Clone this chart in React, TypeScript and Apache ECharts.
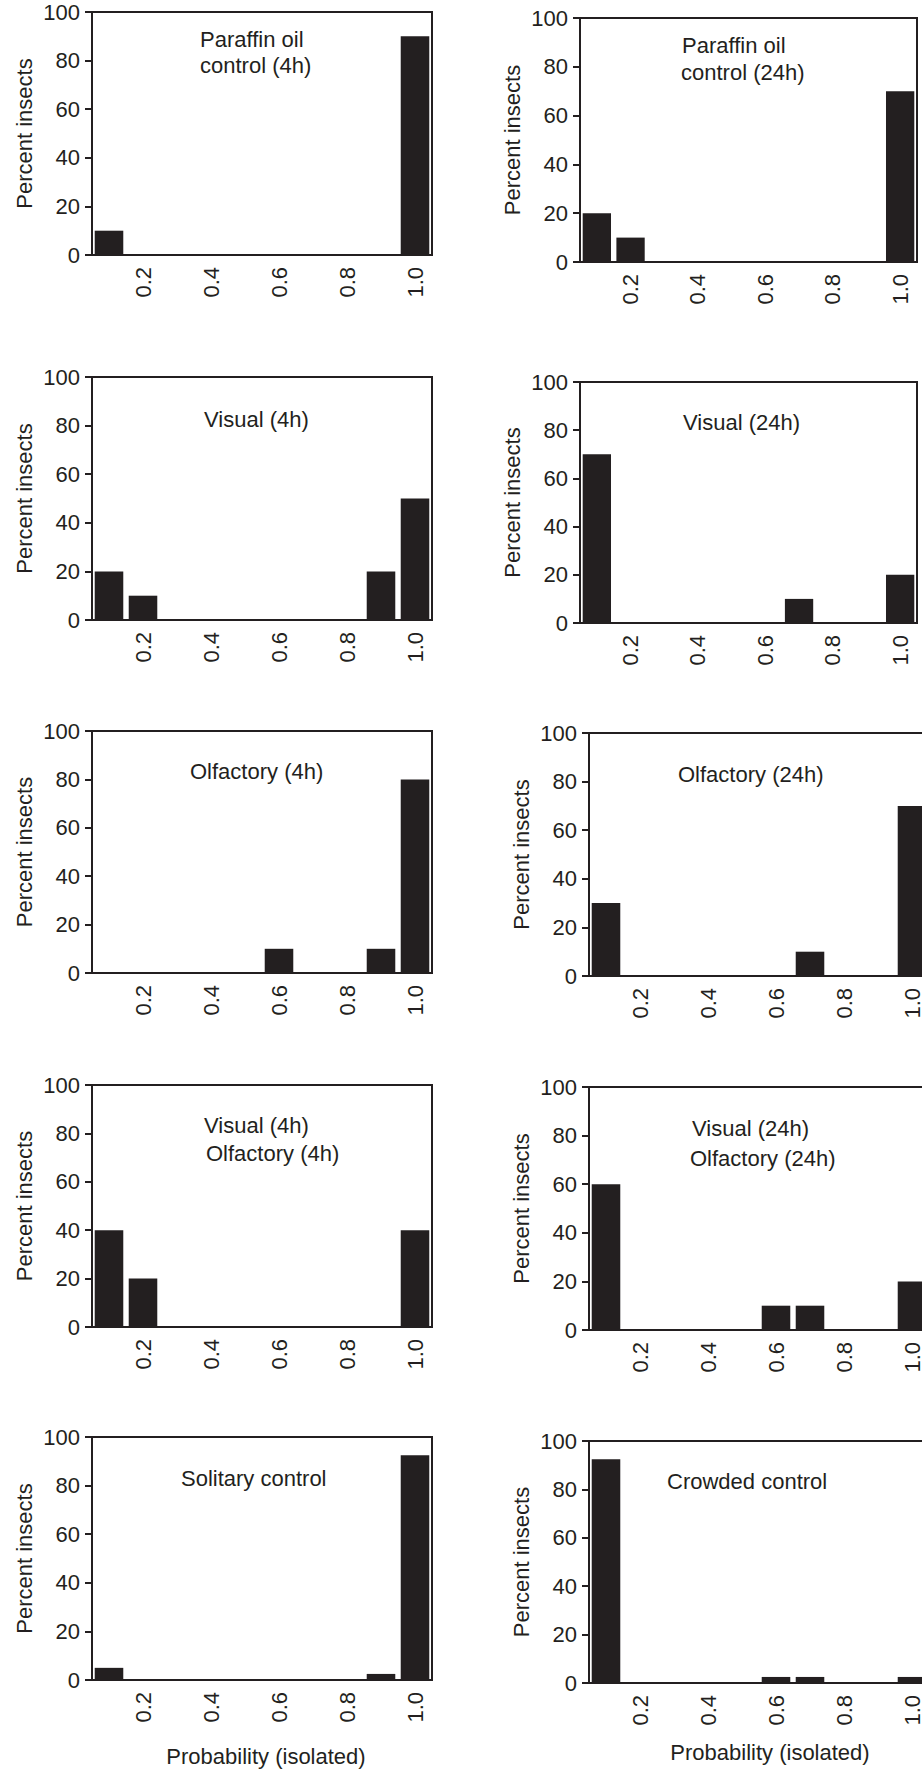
import React, { useEffect, useRef } from 'react';
import * as echarts from 'echarts';

// ---------- data ----------
const categories = ['0.1', '0.2', '0.3', '0.4', '0.5', '0.6', '0.7', '0.8', '0.9', '1.0'];
const shownTickLabels = ['0.2', '0.4', '0.6', '0.8', '1.0'];
const yTicks = [0, 20, 40, 60, 80, 100];

const paraffin4h = [10, 0, 0, 0, 0, 0, 0, 0, 0, 90];
const paraffin24h = [20, 10, 0, 0, 0, 0, 0, 0, 0, 70];
const visual4h = [20, 10, 0, 0, 0, 0, 0, 0, 20, 50];
const visual24h = [70, 0, 0, 0, 0, 0, 10, 0, 0, 20];
const olfactory4h = [0, 0, 0, 0, 0, 10, 0, 0, 10, 80];
const olfactory24h = [30, 0, 0, 0, 0, 0, 10, 0, 0, 70];
const visualOlfactory4h = [40, 20, 0, 0, 0, 0, 0, 0, 0, 40];
const visualOlfactory24h = [60, 0, 0, 0, 0, 10, 10, 0, 0, 20];
const solitaryControl = [5, 0, 0, 0, 0, 0, 0, 0, 2.5, 92.5];
const crowdedControl = [92.5, 0, 0, 0, 0, 2.5, 2.5, 0, 0, 2.5];

const panelValues = [
  paraffin4h, paraffin24h,
  visual4h, visual24h,
  olfactory4h, olfactory24h,
  visualOlfactory4h, visualOlfactory24h,
  solitaryControl, crowdedControl,
];

const panelTitles = [
  ['Paraffin oil', 'control (4h)'], ['Paraffin oil', 'control (24h)'],
  ['Visual (4h)'], ['Visual (24h)'],
  ['Olfactory (4h)'], ['Olfactory (24h)'],
  ['Visual (4h)', 'Olfactory (4h)'], ['Visual (24h)', 'Olfactory (24h)'],
  ['Solitary control'], ['Crowded control'],
];

const yAxisTitle = 'Percent insects';
const xAxisTitle = 'Probability (isolated)';

// ---------- layout ----------
// [left, top, width, height]
const gridBoxes = [
  [92, 12, 340, 243], [580, 18, 337, 244],
  [92, 377, 340, 243], [580, 382, 337, 241],
  [92, 731, 340, 242], [589, 733, 340, 243],
  [92, 1085, 340, 242], [589, 1087, 340, 243],
  [92, 1437, 340, 243], [589, 1441, 340, 242],
];
// per title line: [x, baseline]
const titleSpots = [
  [[200, 47], [200, 73]], [[682, 53], [681, 80]],
  [[204, 427]], [[683, 430]],
  [[190, 779]], [[678, 782]],
  [[204, 1133], [206, 1161]], [[692, 1136], [690, 1166]],
  [[181, 1486]], [[667, 1489]],
];
const xTitleSpots = [[266, 1756], [770, 1752]];

const INK = '#231f20';
const FONT = '"Liberation Sans", Arial, Helvetica, sans-serif';
const FS = 22;

export default function App() {
  const ref = useRef<HTMLDivElement>(null);

  useEffect(() => {
    if (!ref.current) return;
    const chart = echarts.init(ref.current, null, { renderer: 'svg' });

    const grid = gridBoxes.map(([left, top, width, height]) => ({
      left, top, width, height,
      show: true,
      borderColor: INK,
      borderWidth: 2,
      backgroundColor: 'transparent',
      containLabel: false,
      outerBoundsMode: 'none',
    }));

    const xAxis = panelValues.map((_, i) => ({
      type: 'category',
      gridIndex: i,
      data: categories,
      axisLine: { show: true, lineStyle: { color: INK, width: 2 } },
      axisTick: { show: false },
      axisLabel: {
        interval: (_idx: number, val: string) => shownTickLabels.includes(val),
        rotate: 90,
        margin: 12,
        fontSize: FS,
        color: INK,
        fontFamily: FONT,
      },
      splitLine: { show: false },
    }));

    const yAxis = panelValues.map((_, i) => ({
      type: 'value',
      gridIndex: i,
      min: yTicks[0],
      max: yTicks[yTicks.length - 1],
      interval: yTicks[1] - yTicks[0],
      splitLine: { show: false },
      axisLine: { show: true, lineStyle: { color: INK, width: 2 } },
      axisTick: { show: true, length: 7, lineStyle: { color: INK, width: 2 } },
      axisLabel: { margin: 12, fontSize: FS, color: INK, fontFamily: FONT },
      name: yAxisTitle,
      nameLocation: 'middle',
      nameGap: 57,
      nameTextStyle: { fontSize: FS, color: INK, fontFamily: FONT },
    }));

    const series = panelValues.map((vals, i) => ({
      type: 'bar',
      xAxisIndex: i,
      yAxisIndex: i,
      data: vals,
      barCategoryGap: '16%',
      itemStyle: { color: INK },
      silent: true,
    }));

    const graphic: any[] = [];
    panelTitles.forEach((lines, i) => {
      lines.forEach((line, j) => {
        const [x, base] = titleSpots[i][j];
        graphic.push({
          type: 'text',
          x,
          y: base - 7.7,
          silent: true,
          style: {
            text: line,
            fontSize: FS,
            fontFamily: FONT,
            fill: INK,
            align: 'left',
            verticalAlign: 'middle',
            textAlign: 'left',
            textVerticalAlign: 'middle',
          },
        });
      });
    });
    xTitleSpots.forEach(([x, y]) => {
      graphic.push({
        type: 'text',
        x,
        y,
        silent: true,
        style: {
          text: xAxisTitle,
          fontSize: FS,
          fontFamily: FONT,
          fill: INK,
          align: 'center',
          verticalAlign: 'middle',
          textAlign: 'center',
          textVerticalAlign: 'middle',
        },
      });
    });

    chart.setOption({
      animation: false,
      backgroundColor: '#ffffff',
      grid,
      xAxis,
      yAxis,
      series,
      graphic,
    } as any);

    return () => chart.dispose();
  }, []);

  return (
    <div
      ref={ref}
      style={{ position: 'absolute', left: 0, top: 0, width: 922, height: 1771, background: '#fff' }}
    />
  );
}
